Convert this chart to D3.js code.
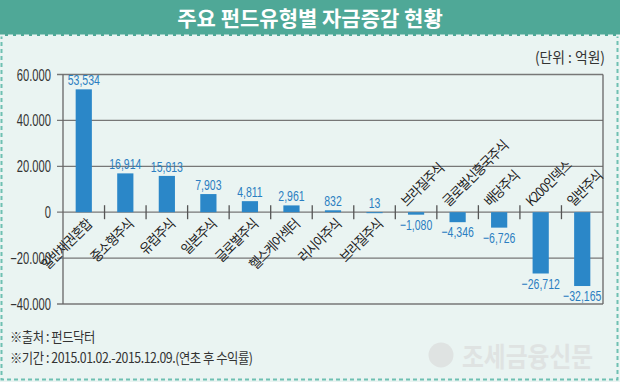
<!DOCTYPE html>
<html><head><meta charset="utf-8">
<script src="https://cdn.jsdelivr.net/npm/d3@7"></script>
<style>
html,body{margin:0;padding:0;background:#fff;}
svg{display:block;}
</style>
</head><body>
<svg id="c" width="620" height="382"></svg>
<script>
const categories = ["일반채권혼합","중소형주식","유럽주식","일본주식","글로벌주식","헬스케어섹터","러시아주식","브라질주식","브라질주식","글로벌신흥국주식","배당주식","K200인덱스","일반주식"];
const values = [53534,16914,15813,7903,4811,2961,832,13,-1080,-4346,-6726,-26712,-32165];
const yTicks = [-40000,-20000,0,20000,40000,60000];
const title = "주요 펀드유형별 자금증감 현황";
const unitLabel = "(단위 : 억원)";
const notes = ["※출처 : 펀드닥터","※기간 : 2015.01.02.-2015.12.09.(연초 후 수익률)"];

const svg = d3.select("#c");
const W = 620, H = 382;
const numFont = "'Liberation Sans','Roboto',sans-serif";
const korFont = "'Noto Sans CJK KR','Noto Sans',sans-serif";

// background panel
svg.append("rect").attr("x",0).attr("y",0).attr("width",W).attr("height",H).attr("fill","#eaf4f2");
svg.append("rect").attr("x",1.5).attr("y",34).attr("width",616).attr("height",345.5)
  .attr("fill","none").attr("stroke","#6fc0b2").attr("stroke-width",2).attr("stroke-dasharray","4,3");
// title bar
svg.append("rect").attr("x",0).attr("y",0).attr("width",W).attr("height",36).attr("fill","#4fa897");
svg.append("line").attr("x1",0).attr("x2",W).attr("y1",35.5).attr("y2",35.5)
  .attr("stroke","#eaf4f2").attr("stroke-width",2).attr("stroke-dasharray","5,3");
svg.append("text").attr("x",310).attr("y",26).attr("text-anchor","middle")
  .attr("font-family",korFont).attr("font-weight","bold").attr("font-size",21)
  .attr("fill","#fff").text(title);

// watermark
const wm = svg.append("g").attr("fill","#dfe3e2");
wm.append("circle").attr("cx",441).attr("cy",355).attr("r",12.5);
wm.append("text").attr("transform","translate(462,367) scale(0.88,1)").attr("font-family",korFont).attr("font-weight","bold")
  .attr("font-size",27).attr("fill","#dfe3e2").text("조세금융신문");

// chart
const x0 = 63, x1 = 603, yTop = 74.5, yBot = 304;
const x = d3.scaleBand().domain(categories.map((d,i)=>i)).range([x0,x1]).paddingInner(0.61).paddingOuter(0.305);
const xb = d3.scaleBand().domain(categories.map((d,i)=>i)).range([x0,x1]).padding(0);
const y = d3.scaleLinear().domain([-40000,60000]).range([yBot,yTop]);

const fmtTick = v => v===0 ? "0" : d3.format(",")(v).replace(/,/g,".");
// y tick labels (condensed)
svg.append("g").selectAll("text").data(yTicks).join("text")
  .attr("transform",d=>`translate(51,${y(d)+6}) scale(0.7,1)`)
  .attr("text-anchor","end").attr("font-family",numFont).attr("font-size",16).attr("fill","#333")
  .text(fmtTick);

// gridlines with left tick
svg.append("g").selectAll("line").data(yTicks).join("line")
  .attr("x1",x0-6).attr("x2",x1).attr("y1",d=>y(d)).attr("y2",d=>y(d))
  .attr("stroke","#777").attr("stroke-width",1.3);
// frame
svg.append("line").attr("x1",x0).attr("x2",x0).attr("y1",yTop).attr("y2",yBot).attr("stroke","#666").attr("stroke-width",1.3);
svg.append("line").attr("x1",x1).attr("x2",x1).attr("y1",yTop).attr("y2",yBot).attr("stroke","#666").attr("stroke-width",1.3);

// category tick marks on zero line
svg.append("g").selectAll("line").data(categories.slice(1).map((d,i)=>i+1)).join("line")
  .attr("x1",d=>xb(d)).attr("x2",d=>xb(d)).attr("y1",y(0)-7).attr("y2",y(0)+7)
  .attr("stroke","#555").attr("stroke-width",1.3);

// bars
svg.append("g").selectAll("rect").data(values).join("rect")
  .attr("x",(d,i)=>x(i)).attr("width",x.bandwidth())
  .attr("y",d=>y(Math.max(0,d))).attr("height",d=>Math.max(1,Math.abs(y(d)-y(0))))
  .attr("fill","#2b87c8");

// value labels
const fmtVal = d3.format(",");
svg.append("g").selectAll("text").data(values).join("text")
  .attr("transform",(d,i)=>`translate(${x(i)+x.bandwidth()/2},${d>=0 ? y(d)-4 : y(d)+15}) scale(0.7,1)`)
  .attr("text-anchor","middle").attr("font-family",numFont).attr("font-size",15)
  .attr("fill","#2a7ec1").text(d=>fmtVal(d));

// category labels
svg.append("g").selectAll("text").data(categories).join("text")
  .attr("transform",(d,i)=>{
    const cx = x(i)+x.bandwidth()/2;
    return values[i]>=0 ? `translate(${cx+9},${y(0)+13}) rotate(-45) scale(0.9,1)` : `translate(${cx-9},${y(0)-5}) rotate(-45) scale(0.9,1)`;
  })
  .attr("text-anchor",(d,i)=>values[i]>=0?"end":"start")
  .attr("font-family",korFont).attr("font-size",14).attr("letter-spacing","-1").attr("fill","#222")
  .text(d=>d);

// unit
svg.append("text").attr("transform","translate(605,63) scale(0.92,1)").attr("text-anchor","end")
  .attr("font-family",korFont).attr("font-size",15).attr("fill","#333").text(unitLabel);

// notes
svg.append("g").selectAll("text").data(notes).join("text")
  .attr("transform",(d,i)=>`translate(10,${342+i*21}) scale(0.88,1)`)
  .attr("font-family",korFont).attr("font-size",14).attr("fill","#333").attr("letter-spacing","-0.5").text(d=>d);
</script>
</body></html>
